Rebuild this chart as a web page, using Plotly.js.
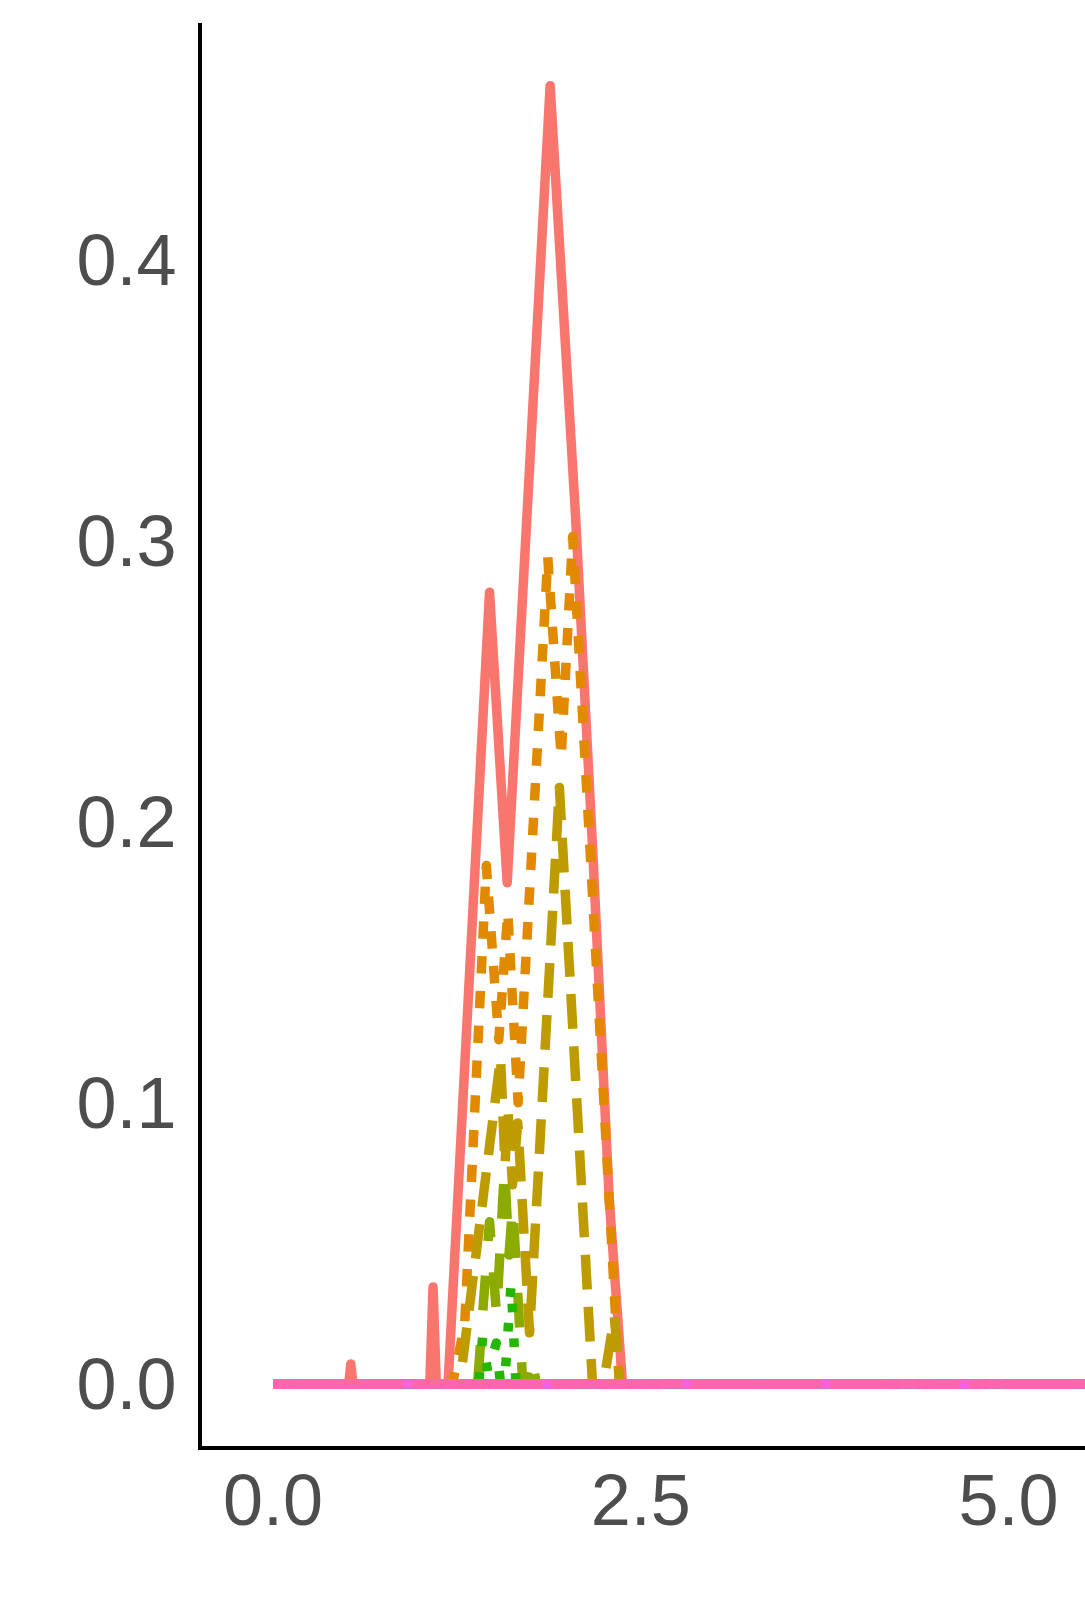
<!DOCTYPE html>
<html>
<head>
<meta charset="utf-8">
<script src="https://cdn.plot.ly/plotly-3.0.1.min.js"></script>
<style>
  html, body { margin: 0; padding: 0; background: #ffffff; overflow: hidden; }
  #chart { width: 1085px; height: 1615px; }
  /* ggplot draws vertices with round joins */
  .scatterlayer path { stroke-linejoin: round !important; }
</style>
</head>
<body>
<div id="chart"></div>
<script>
// ---- 13 groups: ggplot default hue palette + linetype palette ----
const groupColors = [
  "#F8766D", "#E18A00", "#BE9C00", "#8CAB00", "#24B700", "#00BE70", "#00C1AB",
  "#00BBDA", "#00ACFC", "#8B93FF", "#D575FE", "#F962DD", "#FF65AC"
];
const groupDash = [
  "solid",
  "17.4px,17.4px",
  "34.8px,17.4px",
  "34.8px,34.8px",
  "8.7px,26.1px",
  "8.7px,26.1px,34.8px,26.1px",
  "60.9px,26.1px",
  "17.4px,17.4px,52.2px,17.4px",
  "8.7px,17.4px,17.4px,17.4px,26.1px,17.4px,34.8px,17.4px",
  "130.5px,17.4px,69.6px,17.4px",
  "130.5px,34.8px,34.8px,34.8px,69.6px,34.8px,34.8px,34.8px",
  "17.4px,17.4px,34.8px,17.4px,69.6px,17.4px,130.5px,17.4px",
  "130.5px,8.7px"
];

// ---- curves ----
const g1x = [0, 0.515, 0.529, 0.543, 1.066, 1.088, 1.110, 1.19, 1.472, 1.592, 1.884, 2.056, 2.173, 2.286, 2.374, 2.39, 10.2];
const g1y = [0, 0, 0.0071, 0, 0, 0.0345, 0, 0, 0.2817, 0.1784, 0.462, 0.3095, 0.1902, 0.0655, 0.0014, 0, 0];

const g2x = [0, 1.22, 1.303, 1.450, 1.535, 1.596, 1.666, 1.868, 1.959, 2.037, 2.155, 2.286, 2.336, 2.354, 10.2];
const g2y = [0, 0, 0.021, 0.1845, 0.1225, 0.168, 0.1001, 0.2942, 0.2229, 0.3016, 0.1902, 0.0655, 0.0121, 0, 0];

const g3x = [0, 1.27, 1.547, 1.577, 1.598, 1.628, 1.664, 1.744, 1.947, 2.094, 2.172, 2.246, 2.32, 2.361, 10.2];
const g3y = [0, 0, 0.1161, 0.078, 0.0969, 0.0709, 0.0929, 0.0182, 0.2123, 0.0726, 0, 0, 0.0239, 0, 0];

const g4x = [0, 1.391, 1.427, 1.472, 1.520, 1.574, 1.604, 1.630, 1.696, 1.716, 1.755, 1.791, 10.2];
const g4y = [0, 0, 0.0264, 0.0577, 0.0246, 0.0773, 0.0459, 0.0637, 0.0021, 0, 0.010, 0, 0];

const g5x = [0, 1.398, 1.425, 1.460, 1.518, 1.547, 1.574, 1.619, 1.652, 10.2];
const g5y = [0, 0, 0.0167, 0.004, 0.0146, 0, 0, 0.036, 0, 0];

// groups 6-13 stay at zero over the visible range
const flatX = [0, 10.2];
const flatY = [0, 0];

const xTickVals = [0, 2.5, 5];
const xTickText = ["0.0", "2.5", "5.0"];
const yTickVals = [0, 0.1, 0.2, 0.3, 0.4];
const yTickText = ["0.0", "0.1", "0.2", "0.3", "0.4"];

const curves = [
  [g1x, g1y], [g2x, g2y], [g3x, g3y], [g4x, g4y], [g5x, g5y]
];

const traces = groupColors.map((color, i) => {
  const xy = curves[i] || [flatX, flatY];
  return {
    x: xy[0],
    y: xy[1],
    type: "scatter",
    mode: "lines",
    line: { color: color, width: 9.5, dash: groupDash[i] },
    hoverinfo: "skip"
  };
});

const tickFont = { family: "Liberation Sans, Arial, sans-serif", size: 72, color: "#4D4D4D" };

const layout = {
  width: 1085,
  height: 1615,
  margin: { l: 202, r: 0, t: 23, b: 169 },
  paper_bgcolor: "#ffffff",
  plot_bgcolor: "#ffffff",
  showlegend: false,
  xaxis: {
    range: [-0.4827, 5.5201],
    tickmode: "array",
    tickvals: xTickVals,
    ticktext: xTickText,
    tickfont: tickFont,
    ticks: "",
    ticklabelstandoff: -11,
    showgrid: false,
    zeroline: false,
    showline: true,
    linecolor: "#000000",
    linewidth: 4
  },
  yaxis: {
    range: [-0.02206, 0.4843],
    tickmode: "array",
    tickvals: yTickVals,
    ticktext: yTickText,
    tickfont: tickFont,
    ticks: "",
    ticklabelstandoff: 7,
    showgrid: false,
    zeroline: false,
    showline: true,
    linecolor: "#000000",
    linewidth: 4
  }
};

Plotly.newPlot("chart", traces, layout, { displayModeBar: false, staticPlot: true });
</script>
</body>
</html>
